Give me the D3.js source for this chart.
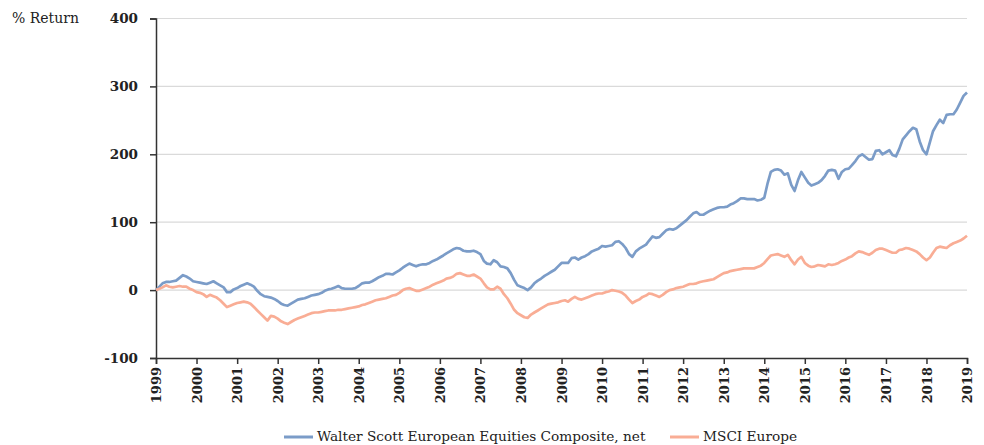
<!DOCTYPE html>
<html>
<head>
<meta charset="utf-8">
<script src="https://cdn.jsdelivr.net/npm/d3@7"></script>
<style>
  body { margin: 0; background: #fff; }
  svg { display: block; }
  text { font-family: "DejaVu Serif", Georgia, serif; fill: #222; }
</style>
</head>
<body>
<div id="chart"></div>
<script>
// ---- data (monthly, Jan 1999 .. Jan 2019) ----
const seriesNames = ["Walter Scott European Equities Composite, net", "MSCI Europe"];
const yearTicks = [1999, 2000, 2001, 2002, 2003, 2004, 2005, 2006, 2007, 2008, 2009,
  2010, 2011, 2012, 2013, 2014, 2015, 2016, 2017, 2018, 2019];
const yTicks = [-100, 0, 100, 200, 300, 400];

const walterScott = [
  0, 5, 10, 12, 12, 13, 14, 18, 22, 20, 17, 13,              // 1999
  12, 11, 10, 9, 11, 13, 10, 7, 4, -3, -3, 1,                // 2000
  3, 6, 8, 10, 8, 5, -1, -6, -9, -10, -11, -13,              // 2001
  -16, -20, -22, -23, -20, -17, -14, -13, -12, -10, -8, -7,  // 2002
  -6, -4, -1, 1, 2, 4, 6, 3, 2, 2, 2, 3,                     // 2003
  6, 10, 11, 11, 13, 16, 19, 21, 24, 24, 23, 26,             // 2004
  29, 33, 36, 39, 37, 35, 37, 38, 38, 40, 43, 45,            // 2005
  48, 51, 54, 57, 60, 62, 61, 58, 57, 57, 58, 56,            // 2006
  53, 43, 39, 38, 44, 41, 35, 34, 32, 25, 15, 7,             // 2007
  5, 3, 0, 4, 10, 14, 17, 21, 24, 27, 30, 35,                // 2008
  40, 40, 40, 47, 48, 45, 48, 50, 53, 57, 59, 61,            // 2009
  65, 64, 65, 66, 71, 72, 68, 62, 53, 49, 57, 61,            // 2010
  64, 67, 73, 79, 77, 78, 83, 88, 90, 89, 91, 95,            // 2011
  99, 103, 108, 113, 115, 111, 111, 114, 117, 119, 121, 122, // 2012
  122, 123, 126, 128, 131, 135, 135, 134, 134, 134, 132, 133,// 2013
  136, 158, 174, 177, 178, 176, 170, 172, 155, 146, 162, 174,// 2014
  166, 158, 154, 156, 158, 162, 168, 176, 177, 176, 164, 174,// 2015
  178, 179, 184, 190, 197, 200, 196, 192, 193, 205, 206, 200,// 2016
  203, 206, 199, 197, 208, 222, 228, 234, 239, 237, 219, 206,// 2017
  200, 218, 234, 243, 251, 246, 258, 259, 259, 266, 276, 286,// 2018
  291                                                        // 2019
];

const msciEurope = [
  0, 2, 4, 7, 5, 4, 5, 6, 5, 5, 2, 0,                        // 1999
  -3, -4, -6, -10, -7, -9, -11, -15, -20, -25, -23, -21,     // 2000
  -19, -18, -17, -18, -20, -25, -30, -35, -40, -45, -38, -39,// 2001
  -42, -46, -48, -50, -47, -44, -42, -40, -38, -36, -34, -33,// 2002
  -33, -32, -31, -30, -30, -30, -29, -29, -28, -27, -26, -25,// 2003
  -24, -22, -21, -19, -17, -15, -14, -13, -12, -10, -8, -7,  // 2004
  -4, 0, 2, 3, 1, -1, -1, 1, 3, 5, 8, 10,                    // 2005
  12, 14, 17, 18, 20, 24, 25, 23, 21, 21, 23, 20,            // 2006
  17, 10, 4, 1, 1, 5, 2, -6, -12, -20, -29, -34,             // 2007
  -37, -40, -41, -36, -33, -30, -27, -24, -21, -20, -19, -18,// 2008
  -16, -15, -17, -13, -10, -13, -14, -12, -10, -8, -6, -5,   // 2009
  -5, -3, -2, 0, -1, -2, -4, -8, -14, -19, -16, -14,         // 2010
  -10, -8, -5, -6, -8, -10, -7, -3, 0, 1, 3, 4,              // 2011
  5, 7, 9, 9, 10, 12, 13, 14, 15, 16, 19, 22,                // 2012
  25, 26, 28, 29, 30, 31, 32, 32, 32, 32, 34, 36,            // 2013
  40, 46, 51, 52, 53, 51, 49, 52, 44, 38, 45, 49,            // 2014
  40, 36, 34, 35, 37, 36, 35, 38, 37, 38, 40, 43,            // 2015
  45, 48, 50, 54, 57, 56, 54, 52, 55, 59, 61, 61,            // 2016
  59, 57, 55, 55, 59, 60, 62, 61, 59, 57, 53, 48,            // 2017
  44, 48, 55, 62, 64, 63, 62, 66, 69, 71, 73, 76,            // 2018
  80                                                         // 2019
];

const colors = ["#7b9cc8", "#f9ad95"];

// ---- layout ----
const W = 984, H = 445;
const plot = { left: 156, right: 967, top: 18.5, bottom: 358 };

const svg = d3.select("#chart").append("svg")
  .attr("width", W)
  .attr("height", H);

const months = walterScott.map((_, i) => d3.timeMonth.offset(new Date(1999, 0, 1), i));

const x = d3.scaleTime()
  .domain([new Date(yearTicks[0], 0, 1), new Date(yearTicks[yearTicks.length - 1], 0, 1)])
  .range([plot.left, plot.right]);

const y = d3.scaleLinear()
  .domain([yTicks[0], yTicks[yTicks.length - 1]])
  .range([plot.bottom, plot.top]);

// gridlines
svg.append("g")
  .selectAll("line")
  .data(yTicks.filter(d => d > yTicks[0]))
  .join("line")
    .attr("x1", plot.left)
    .attr("x2", plot.right)
    .attr("y1", d => y(d))
    .attr("y2", d => y(d))
    .attr("stroke", "#dadada")
    .attr("stroke-width", 1.2);

// y axis (plain hyphen for negatives, like the original)
const yAxis = svg.append("g")
  .attr("transform", `translate(${plot.left},0)`)
  .call(d3.axisLeft(y).tickValues(yTicks).tickFormat(d => String(d)).tickSize(6).tickPadding(12));
yAxis.select(".domain").attr("stroke", "#333").attr("stroke-width", 1.5);
yAxis.selectAll("line").attr("stroke", "#333").attr("stroke-width", 1.5);
yAxis.selectAll("text")
  .style("font-size", "13.5px")
  .style("font-weight", "bold")
  .attr("fill", "#2a2a2a");

// x axis
const xAxis = svg.append("g")
  .attr("transform", `translate(0,${plot.bottom})`)
  .call(d3.axisBottom(x)
    .tickValues(yearTicks.map(yr => new Date(yr, 0, 1)))
    .tickFormat(d3.timeFormat("%Y"))
    .tickSize(6));
xAxis.select(".domain").attr("stroke", "#333").attr("stroke-width", 1.5);
xAxis.selectAll("line").attr("stroke", "#333").attr("stroke-width", 1.5);
xAxis.selectAll("text")
  .style("font-size", "13px")
  .style("font-weight", "bold")
  .attr("fill", "#2a2a2a")
  .attr("transform", "rotate(-90)")
  .attr("text-anchor", "end")
  .attr("x", -9)
  .attr("y", 0)
  .attr("dy", "0.35em");

// lines
const line = d3.line()
  .x((d, i) => x(months[i]))
  .y(d => y(d));

[walterScott, msciEurope].forEach((vals, k) => {
  svg.append("path")
    .datum(vals)
    .attr("fill", "none")
    .attr("stroke", colors[k])
    .attr("stroke-width", 2.7)
    .attr("stroke-linejoin", "round")
    .attr("d", line);
});

// y title
svg.append("text")
  .attr("x", 12)
  .attr("y", 23)
  .style("font-size", "14px")
  .text("% Return");

// legend
const legendItems = [
  { x: 284, name: seriesNames[0], color: colors[0] },
  { x: 670, name: seriesNames[1], color: colors[1] }
];
const legend = svg.append("g").attr("transform", "translate(0,437)");
legendItems.forEach(it => {
  legend.append("line")
    .attr("x1", it.x).attr("x2", it.x + 29)
    .attr("y1", 0).attr("y2", 0)
    .attr("stroke", it.color)
    .attr("stroke-width", 3);
  legend.append("text")
    .attr("x", it.x + 33)
    .attr("y", 0)
    .attr("dy", "0.32em")
    .style("font-size", "13.7px")
    .text(it.name);
});
</script>
</body>
</html>
